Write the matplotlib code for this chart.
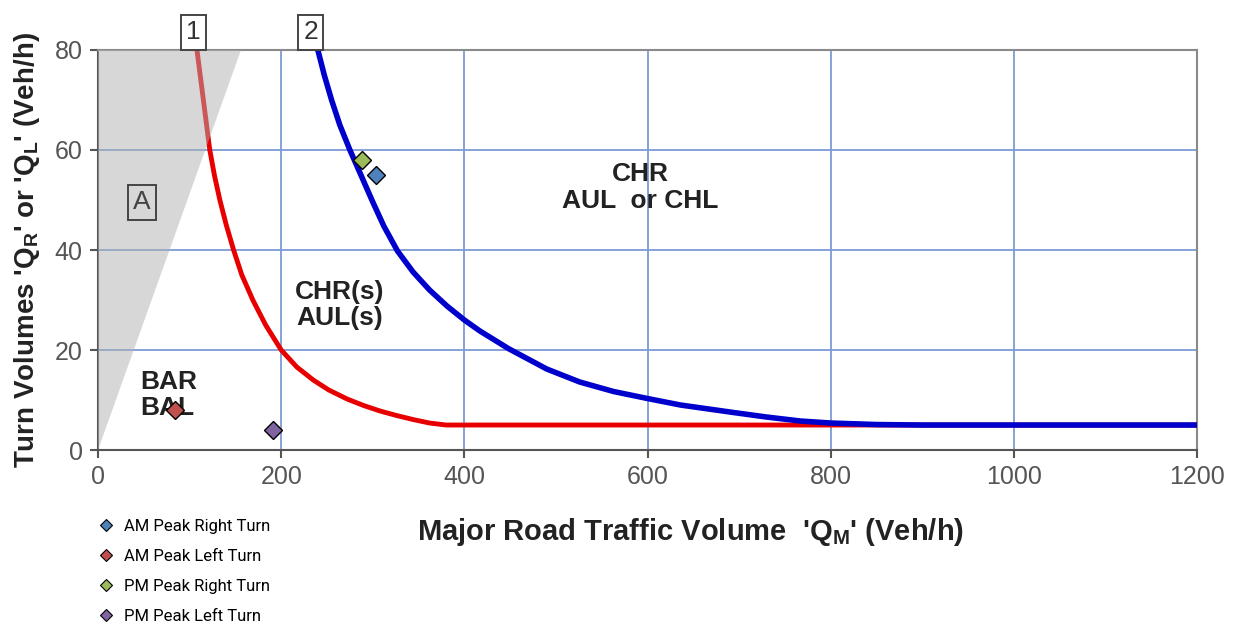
import matplotlib
matplotlib.use("Agg")
import matplotlib.pyplot as plt

# warrant curves
curve1_x = [108, 115, 122, 127, 133, 140, 148, 157, 169, 183, 200, 217, 235, 252, 272,
            290, 308, 326, 344, 362, 380, 600, 800, 1200]
curve1_y = [80, 70, 60, 55, 50, 45, 40, 35, 30, 25, 20, 16.6, 14, 12, 10.2,
            8.9, 7.8, 6.9, 6.1, 5.4, 5, 5, 5, 5]
curve2_x = [240, 247, 255, 264, 275, 288, 299, 312, 327, 344, 362, 381, 400, 417, 448,
            490, 526, 563, 600, 636, 694, 730, 767, 800, 850, 900, 1200]
curve2_y = [80, 75, 70, 65, 60, 54.6, 50, 44.8, 39.8, 35.6, 32, 28.8, 26, 23.8, 20.3,
            16.2, 13.6, 11.7, 10.3, 9, 7.5, 6.6, 5.8, 5.4, 5.1, 5, 5]

# shaded zone A
zone_a_x = [0, 0, 156]
zone_a_y = [0, 80, 80]

# surveyed peak volumes
peak_labels = ["AM Peak Right Turn", "AM Peak Left Turn", "PM Peak Right Turn", "PM Peak Left Turn"]
peak_x = [303, 84, 288, 191]
peak_y = [55, 8, 58, 4]
peak_colors = ["#4f81bd", "#c0504d", "#9bbb59", "#8064a2"]

xticks = [0, 200, 400, 600, 800, 1000, 1200]
yticks = [0, 20, 40, 60, 80]

plt.rcParams['font.family'] = ['Liberation Sans', 'DejaVu Sans']

fig = plt.figure(figsize=(12.35, 6.31), dpi=100)
ax = fig.add_axes([0.0794, 0.2868, 0.8898, 0.6340])

ax.plot(curve1_x, curve1_y, color="#e80000", lw=3.5, zorder=3,
        solid_capstyle="butt", solid_joinstyle="round")
ax.fill(zone_a_x, zone_a_y, color="#b0b0b0", alpha=0.5, lw=0, zorder=4)
ax.plot(curve2_x, curve2_y, color="#0000cc", lw=4, zorder=5,
        solid_capstyle="butt", solid_joinstyle="round")

for lab, x, y, c in zip(peak_labels, peak_x, peak_y, peak_colors):
    ax.plot(x, y, marker="D", ms=9, color=c, mec="black", mew=1.0, ls="none", zorder=6)

ax.set_xlim(0, 1200)
ax.set_ylim(0, 80)
ax.set_xticks(xticks)
ax.set_yticks(yticks)
ax.grid(True, color="#7d9bd6", lw=1.3)
ax.set_axisbelow(True)
for s in ax.spines.values():
    s.set_color("#8a8a8a")
    s.set_linewidth(1.5)
ax.spines["left"].set_color("#555555")
ax.spines["bottom"].set_color("#555555")
ax.tick_params(direction="out", length=6, width=1.5, color="#555555",
               labelsize=18, labelcolor="#555555", pad=5)

box = dict(boxstyle="square,pad=0.2", fc="white", ec="#444444", lw=1.4)
ax.text(104, 83.5, "1", fontsize=19, ha="center", va="center", color="#333333",
        bbox=box, clip_on=False, zorder=7)
ax.text(232, 83.5, "2", fontsize=19, ha="center", va="center", color="#333333",
        bbox=box, clip_on=False, zorder=7)
ax.text(48, 49.5, "A", fontsize=19, ha="center", va="center", color="#444444",
        bbox=dict(boxstyle="square,pad=0.2", fc="none", ec="#444444", lw=1.4), zorder=7)

ax.text(264, 29, "CHR(s)\nAUL(s)", fontsize=19, fontweight="bold", ha="center",
        va="center", color="#222222", linespacing=1.15, zorder=7)
ax.text(46, 11, "BAR\nBAL", fontsize=19, fontweight="bold", ha="left",
        va="center", color="#222222", linespacing=1.15, zorder=5)
ax.text(592, 52.5, "CHR\nAUL  or CHL", fontsize=19, fontweight="bold", ha="center",
        va="center", color="#222222", linespacing=1.15, zorder=7)

ax.set_xlabel("Major Road Traffic Volume  'Q$_\\mathregular{M}$' (Veh/h)", fontsize=21,
              fontweight="bold", color="#222222")
ax.xaxis.set_label_coords(0.539, -0.165)
ax.set_ylabel("Turn Volumes 'Q$_\\mathregular{R}$' or 'Q$_\\mathregular{L}$' (Veh/h)", fontsize=20,
              fontweight="bold", color="#222222")
ax.yaxis.set_label_coords(-0.051, 0.5)

# legend below the plot area
handles = [plt.Line2D([], [], marker="D", ms=6.5, color=c, mec="black", mew=0.8, ls="none")
           for c in peak_colors]
fig.legend(handles, peak_labels, loc="upper left", bbox_to_anchor=(0.079, 0.178),
           frameon=False, prop={"family": "Roboto", "size": 12}, labelspacing=0.9,
           handletextpad=0.6, handlelength=1.0, borderaxespad=0, borderpad=0)

fig.savefig("out.png", dpi=100)
